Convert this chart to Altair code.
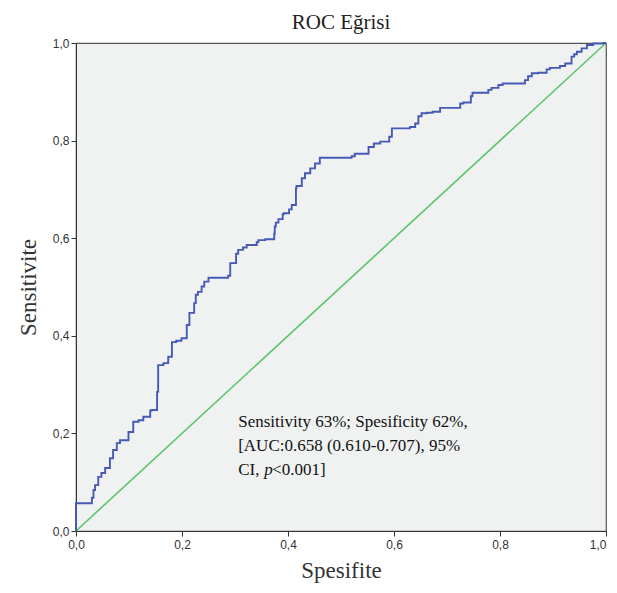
import altair as alt
import pandas as pd

# ROC curve (1 - specificity on x, sensitivity on y)
fpr = [0.0, 0.002, 0.030, 0.033, 0.036, 0.042, 0.048, 0.055, 0.064, 0.070, 0.077, 0.083,
       0.099, 0.108, 0.118, 0.127, 0.140, 0.143, 0.153, 0.155, 0.165, 0.174, 0.181,
       0.189, 0.199, 0.209, 0.214, 0.223, 0.226, 0.230, 0.237, 0.242, 0.250, 0.259,
       0.287, 0.291, 0.302, 0.306, 0.315, 0.322, 0.341, 0.344, 0.357, 0.374, 0.375,
       0.377, 0.382, 0.390, 0.392, 0.402, 0.407, 0.415, 0.416, 0.426, 0.432, 0.442,
       0.451, 0.460, 0.473, 0.520, 0.526, 0.552, 0.562, 0.574, 0.591, 0.596, 0.602,
       0.630, 0.640, 0.646, 0.652, 0.662, 0.673, 0.687, 0.690, 0.725, 0.731, 0.745,
       0.748, 0.753, 0.778, 0.784, 0.797, 0.805, 0.809, 0.847, 0.853, 0.860, 0.872,
       0.888, 0.894, 0.913, 0.923, 0.935, 0.940, 0.945, 0.954, 0.964, 0.976, 0.995, 1.0]
tpr = [0.0, 0.057, 0.057, 0.068, 0.084, 0.094, 0.111, 0.119, 0.129, 0.149, 0.166, 0.180,
       0.186, 0.203, 0.224, 0.227, 0.234, 0.247, 0.248, 0.285, 0.340, 0.344, 0.357,
       0.387, 0.390, 0.395, 0.422, 0.447, 0.467, 0.484, 0.490, 0.501, 0.511, 0.519,
       0.519, 0.523, 0.549, 0.568, 0.576, 0.581, 0.586, 0.592, 0.596, 0.598, 0.609,
       0.624, 0.632, 0.639, 0.649, 0.651, 0.659, 0.668, 0.702, 0.707, 0.723, 0.733,
       0.743, 0.753, 0.765, 0.765, 0.768, 0.773, 0.787, 0.794, 0.798, 0.808, 0.825,
       0.825, 0.828, 0.835, 0.850, 0.856, 0.857, 0.859, 0.867, 0.867, 0.876, 0.878,
       0.891, 0.898, 0.898, 0.904, 0.908, 0.914, 0.917, 0.917, 0.924, 0.932, 0.938,
       0.939, 0.946, 0.949, 0.953, 0.958, 0.972, 0.977, 0.982, 0.989, 0.996, 0.999, 1.0]

ref_x = [0.0, 1.0]
ref_y = [0.0, 1.0]

ann_lines = ["Sensitivity 63%; Spesificity 62%,", "[AUC:0.658 (0.610-0.707), 95%"]
ann_y = [0.223, 0.174]
ann3_text = ["CI,", "p", "<0.001]"]
ann3_x = [0.306, 0.355, 0.370]
ann3_style = ["normal", "italic", "normal"]

roc = pd.DataFrame({"x": fpr, "y": tpr, "order": list(range(len(fpr)))})
ref = pd.DataFrame({"x": ref_x, "y": ref_y})
ann = pd.DataFrame({"t": ann_lines, "x": [0.306, 0.306], "y": ann_y})
ann3 = pd.DataFrame({"t": ann3_text, "x": ann3_x, "y": [0.125] * 3, "s": ann3_style})

lbl = "replace(format(datum.value, '.1f'), '.', ',')"
xs = alt.Scale(domain=[0, 1], nice=False)
ys = alt.Scale(domain=[0, 1], nice=False)

xax = alt.Axis(values=[0, 0.2, 0.4, 0.6, 0.8, 1.0], labelExpr=lbl, title="Spesifite",
               grid=False, tickSize=5, labelFont="Liberation Sans", labelFontSize=12,
               labelColor="#333333", titleFont="Liberation Serif", titleFontSize=23,
               titleFontWeight="normal", titleColor="#333333", titlePadding=9,
               domainColor="#333333", tickColor="#333333", labelPadding=3,
               labelFlush=False,
               labelAlign={"condition": {"test": "datum.value >= 1", "value": "right"},
                           "value": "center"})
yax = alt.Axis(values=[0, 0.2, 0.4, 0.6, 0.8, 1.0], labelExpr=lbl, title="Sensitivite",
               grid=False, tickSize=5, labelFont="Liberation Sans", labelFontSize=12,
               labelColor="#333333", titleFont="Liberation Serif", titleFontSize=23,
               titleFontWeight="normal", titleColor="#333333", titlePadding=12,
               domainColor="#333333", tickColor="#333333", labelPadding=2,
               labelFlush=False)

diag = alt.Chart(ref).mark_line(color="#5cc46a", strokeWidth=1.6).encode(
    x=alt.X("x:Q", scale=xs, axis=xax), y=alt.Y("y:Q", scale=ys, axis=yax))

curve = alt.Chart(roc).mark_line(color="#4659b5", strokeWidth=1.9,
                                 interpolate="step-before").encode(
    x="x:Q", y="y:Q", order="order:Q")

text1 = alt.Chart(ann).mark_text(align="left", baseline="middle", font="Liberation Serif",
                                 fontSize=17, color="#111111").encode(
    x="x:Q", y="y:Q", text="t:N")
text_n = alt.Chart(ann3).transform_filter(alt.datum.s == "normal").mark_text(
    align="left", baseline="middle", font="Liberation Serif",
    fontSize=17, color="#111111").encode(x="x:Q", y="y:Q", text="t:N")
text_i = alt.Chart(ann3).transform_filter(alt.datum.s == "italic").mark_text(
    align="left", baseline="middle", font="Liberation Serif", fontStyle="italic",
    fontSize=17, color="#111111").encode(x="x:Q", y="y:Q", text="t:N")

chart = alt.layer(diag, curve, text1, text_n, text_i).properties(
    width=530, height=488,
    title=alt.TitleParams("ROC Eğrisi", font="Liberation Serif", fontSize=21,
                          fontWeight="normal", color="#222222", anchor="middle", offset=4),
    autosize=alt.AutoSizeParams(type="none"),
    padding={"left": 68, "top": 35, "right": 2, "bottom": 54},
).configure_view(fill="#f0f2f2", stroke="#555555", strokeWidth=1.2)

chart.save("out.html", embed_options={"renderer": "svg", "actions": False})
